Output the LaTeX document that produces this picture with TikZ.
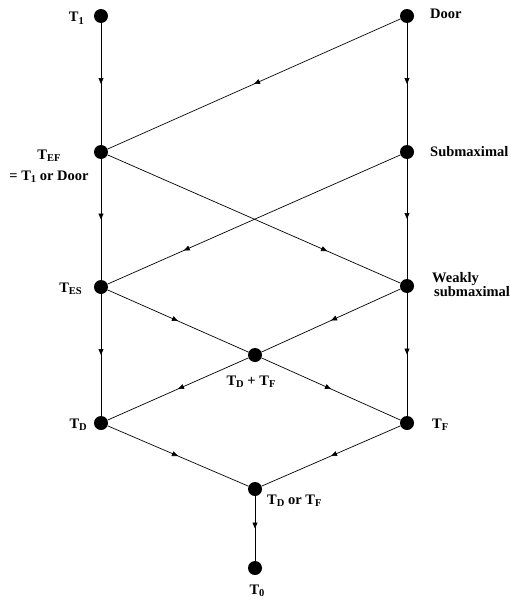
\documentclass[tikz,border=0pt]{standalone}
\usepackage{fontspec}
\setmainfont{Liberation Serif}
\usetikzlibrary{arrows.meta,decorations.markings}
\newcommand{\lsub}[1]{\raisebox{-0.35ex}{\fontsize{10.5}{10.5}\selectfont #1}}
\begin{document}
\begin{tikzpicture}[x=1pt,y=-1pt,
  dot/.style={circle,fill=black,inner sep=0pt,minimum size=14pt},
  lab/.style={font=\fontsize{14.5}{16}\selectfont\bfseries, inner sep=0pt},
  conn/.style={line width=0.7pt, postaction={decorate},
    decoration={markings, mark=at position #1 with {\arrow{Triangle[length=6pt,width=5pt]}}}},
  conn/.default=0.5]
\useasboundingbox (0,0) rectangle (511,602);
% dots
\node[dot] (t1)   at (101,16)  {};
\node[dot] (door) at (407,16)  {};
\node[dot] (tef)  at (101,152) {};
\node[dot] (sub)  at (407,152) {};
\node[dot] (tes)  at (101,287) {};
\node[dot] (weak) at (407,286) {};
\node[dot] (c)    at (255,355) {};
\node[dot] (td)   at (101,423) {};
\node[dot] (tf)   at (407,423) {};
\node[dot] (df)   at (255,489) {};
\node[dot] (t0)   at (255,568) {};
% labels
\node[lab,anchor=base east] (lt1) at (84,22) {T\lsub{1}};
\node[lab,anchor=base west] (ldoor) at (430,19) {Door};
\node[lab,anchor=base] (ltef) at (49,159) {T\lsub{EF}};
\node[lab,anchor=base] (ltef2) at (49,180) {= T\lsub{1} or Door};
\node[lab,anchor=base west] (lsub) at (430,156) {Submaximal};
\node[lab,anchor=base east] (ltes) at (82,292) {T\lsub{ES}};
\node[lab,anchor=base west] (lweak) at (432,282) {Weakly};
\node[lab,anchor=base west] (lweak2) at (434,296) {submaximal};
\node[lab,anchor=base] (lc) at (251,385) {T\lsub{D} + T\lsub{F}};
\node[lab,anchor=base east] (ltd) at (87,428) {T\lsub{D}};
\node[lab,anchor=base west] (ltf) at (432,428) {T\lsub{F}};
\node[lab,anchor=base west] (ldf) at (267,504) {T\lsub{D} or T\lsub{F}};
\node[lab,anchor=base] (lt0) at (257,594) {T\lsub{0}};
% connectors
\draw[conn] (t1) -- (tef);
\draw[conn] (door) -- (sub);
\draw[conn] (door) -- (tef);
\draw[conn] (tef) -- (tes);
\draw[conn] (sub) -- (weak);
\draw[conn=0.75] (tef) -- (weak);
\draw[conn=0.74] (sub) -- (tes);
\draw[conn] (tes) -- (td);
\draw[conn] (weak) -- (tf);
\draw[conn] (tes) -- (c);
\draw[conn] (weak) -- (c);
\draw[conn] (c) -- (td);
\draw[conn] (c) -- (tf);
\draw[conn] (td) -- (df);
\draw[conn] (tf) -- (df);
\draw[conn] (df) -- (t0);
\end{tikzpicture}
\end{document}
